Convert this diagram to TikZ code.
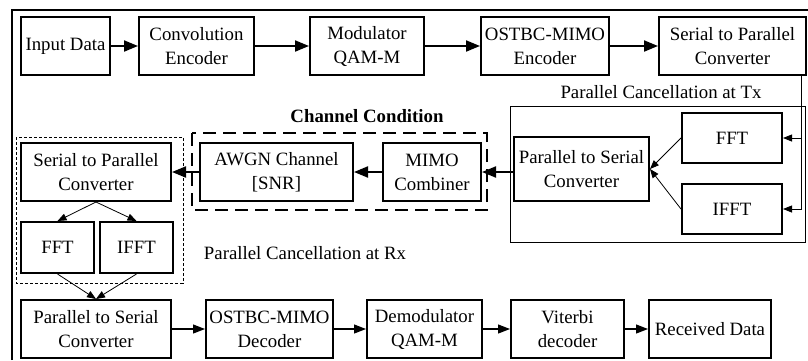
\documentclass[tikz,border=0pt]{standalone}
\usepackage{fontspec}
\setmainfont{Liberation Serif}
\usepackage{tikz}
\usetikzlibrary{arrows.meta}
\tikzset{every node/.append style={font=\fontsize{9.4}{12}\selectfont}}
\tikzset{
    blk/.style={draw, line width=1pt, align=center, inner sep=1pt, minimum height=29pt},
    bigarrow/.style={line width=1pt, -{Triangle[length=7pt,width=5.5pt]}},
    midarrow/.style={line width=0.6pt, -{Triangle[length=6pt,width=4.5pt]}},
    thinarrow/.style={line width=0.4pt, -{Triangle[length=4.5pt,width=3.5pt]}}
}

\begin{document}
\begin{tikzpicture}[x=0.5pt, y=-0.5pt]
    \useasboundingbox (0,0) rectangle (808,360);
    \draw[line width=1pt] (12,360) -- (12,10) -- (808,10);

    \node[blk, minimum width=44.5pt] (in) at (65.5,46) {Input Data};
    \node[blk, minimum width=57.5pt] (conv) at (196.5,46) {Convolution\\Encoder};
    \node[blk, minimum width=57pt] (mod) at (367,46) {Modulator\\QAM-M};
    \node[blk, minimum width=64pt] (enc) at (545,46) {OSTBC-MIMO\\Encoder};
    \node[blk, minimum width=73.5pt] (sptx) at (732.5,46) {Serial to Parallel\\Converter};

    \draw[line width=0.5pt] (510,106) rectangle (805,242);
    \node at (661,92) {Parallel Cancellation at Tx};
    \node[blk, minimum width=50pt, minimum height=25pt] (ffttx) at (732,138) {FFT};
    \node[blk, minimum width=50pt, minimum height=25pt] (iffttx) at (732,209) {IFFT};
    \node[blk, minimum width=67.5pt, minimum height=32pt] (pstx) at (581.5,169) {Parallel to Serial\\Converter};

    \draw[line width=1pt, dash pattern=on 6.5pt off 3.5pt] (192,133) rectangle (487,210);
    \node[font=\fontsize{9.4}{12}\selectfont\bfseries] at (367,116) {Channel Condition};
    \node[blk, minimum width=49pt] (comb) at (432,172) {MIMO\\Combiner};
    \node[blk, minimum width=76.5pt] (awgn) at (276.5,172) {AWGN Channel\\{[SNR]}};

    \draw[line width=0.4pt, dash pattern=on 1.5pt off 1pt] (16,137) rectangle (183,283);
    \node[blk, minimum width=75pt] (sprx) at (96,172) {Serial to Parallel\\Converter};
    \node[blk, minimum width=36.5pt, minimum height=25.5pt] (fftrx) at (57.5,247.5) {FFT};
    \node[blk, minimum width=36.5pt, minimum height=25.5pt] (ifftrx) at (136.5,247.5) {IFFT};
    \node at (305,253) {Parallel Cancellation at Rx};

    \node[blk, minimum width=75pt] (psrx) at (96,329) {Parallel to Serial\\Converter};
    \node[blk, minimum width=63.5pt] (dec) at (269.5,329) {OSTBC-MIMO\\Decoder};
    \node[blk, minimum width=57.5pt] (demod) at (424.5,329) {Demodulator\\QAM-M};
    \node[blk, minimum width=56.5pt] (vit) at (567.5,329) {Viterbi\\decoder};
    \node[blk, minimum width=61pt] (rcv) at (710,329) {Received Data};

    \draw[bigarrow] (in) -- (conv);
    \draw[bigarrow] (conv) -- (mod);
    \draw[bigarrow] (mod) -- (enc);
    \draw[bigarrow] (enc) -- (sptx);

    \coordinate (tap) at (801,75);
    \draw[thinarrow] (tap) |- (iffttx.east);
    \draw[thinarrow] (tap |- ffttx.east) -- (ffttx.east);
    \draw[thinarrow] (ffttx.west) -- (pstx.east);
    \draw[thinarrow] (iffttx.west) -- (pstx.east);

    \draw[bigarrow] (pstx.west |- comb.east) -- (comb.east);
    \draw[bigarrow] (comb) -- (awgn);
    \draw[bigarrow] (awgn) -- (sprx);

    \draw[thinarrow] (sprx.south) -- (fftrx.north);
    \draw[thinarrow] (sprx.south) -- (ifftrx.north);
    \draw[thinarrow] (fftrx.south) -- (psrx.north);
    \draw[thinarrow] (ifftrx.south) -- (psrx.north);

    \draw[midarrow] (psrx) -- (dec);
    \draw[midarrow] (dec) -- (demod);
    \draw[midarrow] (demod) -- (vit);
    \draw[midarrow] (vit) -- (rcv);
\end{tikzpicture}
\end{document}
